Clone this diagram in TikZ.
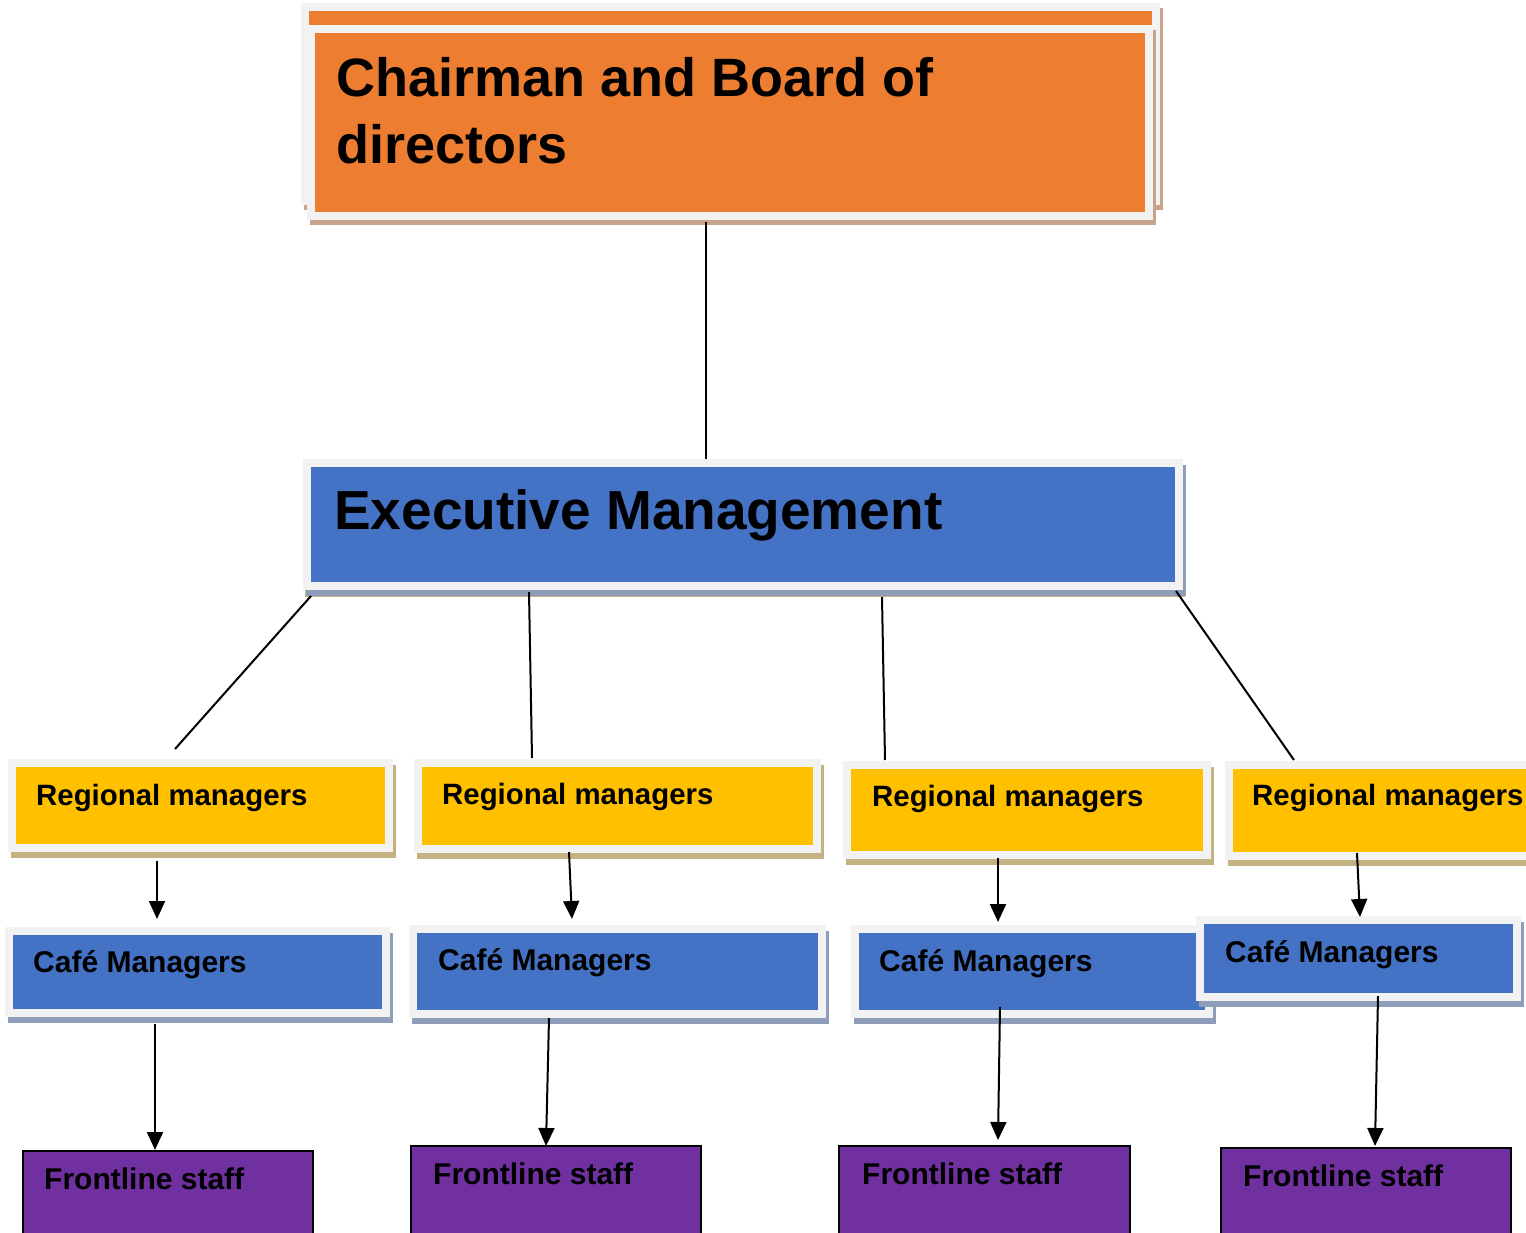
\documentclass[tikz,border=0pt]{standalone}
\usepackage{fontspec}
\setmainfont{Liberation Sans}
\usetikzlibrary{arrows.meta}
\definecolor{boxgray}{HTML}{F2F2F2}
\definecolor{chairorange}{HTML}{ED7D31}
\definecolor{execblue}{HTML}{4472C4}
\definecolor{regyellow}{HTML}{FFC000}
\definecolor{staffpurple}{HTML}{7030A0}
\definecolor{tanshade}{HTML}{C4B283}
\definecolor{blueshade}{HTML}{8E9DBA}
\definecolor{brownshade}{HTML}{C9A48C}

\begin{document}
\begin{tikzpicture}[x=1pt, y=-1pt,
    box/.style={draw=boxgray, line width=8pt, anchor=north west, inner sep=0pt, outer sep=0pt},
    orangebox/.style={preaction={draw=brownshade, fill=brownshade, line width=8pt, transform canvas={shift={(3,5)}}}, box, fill=chairorange},
    bluebox/.style={preaction={draw=blueshade, fill=blueshade, line width=8pt, transform canvas={shift={(3,5.5)}}}, box, fill=execblue},
    yellowbox/.style={preaction={draw=tanshade, fill=tanshade, line width=8pt, transform canvas={shift={(3,5.5)}}}, box, fill=regyellow},
    staffbox/.style={draw=black, line width=1.5pt, fill=staffpurple, anchor=north west, inner sep=0pt, outer sep=0pt},
    bigtext/.style={anchor=base west, inner sep=0pt, align=left, font=\bfseries\fontsize{55}{68}\selectfont},
    smalltext/.style={anchor=base west, inner sep=0pt, font=\bfseries\fontsize{30}{36}\selectfont},
    regtext/.style={smalltext, font=\bfseries\fontsize{29.4}{36}\selectfont},
    link/.style={line width=2pt},
    flow/.style={link, -{Triangle[length=18pt, width=16pt]}}]
    \useasboundingbox (0,0) rectangle (1526,1232);

    % top of the chart
    \node[orangebox, minimum width=851pt, minimum height=194pt] (chairback) at (305,7) {};
    \node[orangebox, minimum width=838pt, minimum height=187pt] (chair) at (311,29) {};
    \node[bigtext, font=\bfseries\fontsize{54}{67}\selectfont] (chairtext) at (336,163) {Chairman and Board of\\directors};

    \node[preaction={draw=tanshade, fill=tanshade, line width=8pt, transform canvas={shift={(2,7)}}}, bluebox, minimum width=872pt, minimum height=123pt] (exec) at (307,463) {};
    \node[bigtext] (exectext) at (334,529) {Executive Management};

    % regional managers
    \node[yellowbox, minimum width=377pt, minimum height=85pt] (reg1) at (12,763) {};
    \node[yellowbox, minimum width=399pt, minimum height=86pt] (reg2) at (418,763) {};
    \node[yellowbox, minimum width=360pt, minimum height=90pt] (reg3) at (847,765) {};
    \node[yellowbox, minimum width=316pt, minimum height=91pt] (reg4) at (1229,765) {};
    \node[regtext] (reg1text) at (36,805) {Regional managers};
    \node[regtext] (reg2text) at (442,804) {Regional managers};
    \node[regtext] (reg3text) at (872,806) {Regional managers};
    \node[regtext] (reg4text) at (1252,805) {Regional managers};

    % cafe managers
    \node[bluebox, minimum width=377pt, minimum height=82pt] (cafe1) at (9,931) {};
    \node[bluebox, minimum width=409pt, minimum height=85pt] (cafe2) at (413,929) {};
    \node[bluebox, minimum width=354pt, minimum height=85pt] (cafe3) at (855,929) {};
    \node[bluebox, minimum width=317pt, minimum height=77pt] (cafe4) at (1200,920) {};
    \node[smalltext] (cafe1text) at (33,972) {Café Managers};
    \node[smalltext] (cafe2text) at (438,970) {Café Managers};
    \node[smalltext] (cafe3text) at (879,971) {Café Managers};
    \node[smalltext] (cafe4text) at (1225,962) {Café Managers};

    % frontline staff
    \node[staffbox, minimum width=290pt, minimum height=100pt] (staff1) at (23,1151) {};
    \node[staffbox, minimum width=290pt, minimum height=100pt] (staff2) at (411,1146) {};
    \node[staffbox, minimum width=291pt, minimum height=100pt] (staff3) at (839,1146) {};
    \node[staffbox, minimum width=290pt, minimum height=100pt] (staff4) at (1221,1148) {};
    \node[smalltext] (staff1text) at (44,1189) {Frontline staff};
    \node[smalltext] (staff2text) at (433,1184) {Frontline staff};
    \node[smalltext] (staff3text) at (862,1184) {Frontline staff};
    \node[smalltext] (staff4text) at (1243,1186) {Frontline staff};

    % connectors
    \draw[link] ([shift={(-24,6)}]chair.south) -- ([shift={(-37,-4)}]exec.north);
    \draw[link] ([shift={(4,10)}]exec.south west) -- ([shift={(-25.5,-14)}]reg1.north);
    \draw[link] ([shift={(-214,6)}]exec.south) -- ([shift={(-85.5,-5)}]reg2.north);
    \draw[link] ([shift={(139,11)}]exec.south) -- ([shift={(-142,-5)}]reg3.north);
    \draw[link] ([shift={(-3,5)}]exec.south east) -- ([shift={(-93,-5)}]reg4.north);

    \draw[flow] ([shift={(-43.5,13)}]reg1.south) -- ([shift={(-40.5,-12)}]cafe1.north);
    \draw[flow] ([shift={(-48.5,3)}]reg2.south) -- ([shift={(-45.5,-10)}]cafe2.north);
    \draw[flow] ([shift={(-29,3)}]reg3.south) -- ([shift={(-34,-7)}]cafe3.north);
    \draw[flow] ([shift={(-30,-3)}]reg4.south) -- ([shift={(1.5,-3)}]cafe4.north);

    \draw[flow] ([shift={(-42.5,11)}]cafe1.south) -- ([shift={(-13,-1)}]staff1.north);
    \draw[flow] ([shift={(-68.5,4)}]cafe2.south) -- ([shift={(-10,0)}]staff2.north);
    \draw[flow] ([shift={(-32,-7)}]cafe3.south) -- ([shift={(13.5,-6)}]staff3.north);
    \draw[flow] ([shift={(19.5,-1)}]cafe4.south) -- ([shift={(9,-2)}]staff4.north);
\end{tikzpicture}
\end{document}
